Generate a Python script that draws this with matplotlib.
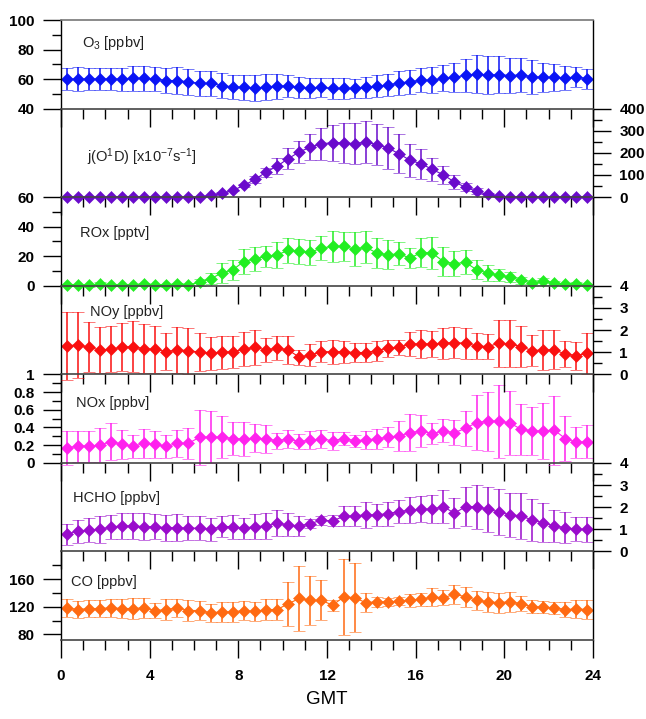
import numpy as np
import matplotlib
matplotlib.use("Agg")
import matplotlib.pyplot as plt
from matplotlib.ticker import MultipleLocator, FuncFormatter

plt.rcParams["font.family"] = ["Liberation Sans", "DejaVu Sans"]
plt.rcParams["mathtext.fontset"] = "custom"
plt.rcParams["mathtext.rm"] = "Liberation Sans"
plt.rcParams["mathtext.it"] = "Liberation Sans:italic"
plt.rcParams["mathtext.bf"] = "Liberation Sans:bold"

# half-hour bins, centred at :15 and :45
hours = np.arange(0.25, 24, 0.5)

o3 = [60, 60, 60, 60, 60, 60, 60.4, 60.4, 60, 59, 59, 58.1, 57, 57, 55.6, 54.7,
      54.3, 53.8, 54.7, 55.2, 55.2, 54.3, 53.8, 54.3, 53.6, 53.6, 53.6, 54.3,
      55.2, 55.8, 57.4, 58.1, 59.2, 59.2, 60.4, 61.1, 62.6, 63.3, 62.6, 63.0,
      62.4, 62.8, 61.5, 61.1, 61.1, 60.6, 61.5, 60.2]
o3_err = [7.4, 8.0, 7.2, 7.4, 7.6, 7.8, 8.3, 8.3, 8.0, 8.7, 9.4, 8.6, 8.5, 8.2,
          8.5, 8.2, 8.6, 8.8, 8.6, 8.5, 7.4, 7.4, 6.8, 6.5, 7.0, 7.1, 6.5, 7.0,
          7.4, 7.6, 7.9, 8.3, 8.3, 8.7, 8.8, 10.0, 11.3, 13.0, 13.0, 12.3, 11.9,
          11.6, 11.5, 10.1, 9.2, 8.2, 7.0, 6.8]

jo1d = [0, 0, 0, 0, 0, 0, 0, 0, 0, 0, 0, 0, 1, 8, 18, 30, 53, 80, 113, 140, 174,
        204, 226, 241, 246, 246, 241, 249, 237, 222, 196, 166, 151, 125, 101, 68,
        45, 26, 12, 3, 0, 0, 0, 0, 0, 0, 0, 0]
jo1d_err = [0, 0, 0, 0, 0, 0, 0, 0, 0, 0, 0, 0, 0, 2, 3, 4, 5, 17, 20, 36, 49, 48,
            59, 73, 81, 90, 92, 97, 93, 94, 87, 74, 68, 52, 40, 30, 19, 14, 5, 2,
            0, 0, 0, 0, 0, 0, 0, 0]

rox = [0.7, 0.7, 0.2, 1.4, 0.7, 0.3, 0.5, 1.2, 0.5, 0.2, 1.2, 0.7, 2.2, 4.7, 8.6,
       10.8, 16.4, 18.2, 19.8, 20.9, 23.9, 23.2, 22.7, 25.5, 26.6, 26.6, 24.8,
       26.1, 22.1, 20.9, 21.6, 18.7, 22.5, 22.1, 16.4, 14.9, 15.8, 10.8, 8.6, 7.2,
       5.9, 3.6, 1.8, 2.9, 2.0, 1.1, 1.4, 0.7]
rox_err = [0.8, 0.8, 0.8, 0.8, 0.8, 0.8, 0.8, 0.8, 0.8, 0.8, 0.8, 0.8, 2.5, 3.6,
           7.0, 6.8, 8.8, 8.3, 7.0, 8.7, 8.2, 8.7, 8.4, 8.1, 10.4, 10.1, 11.3,
           10.9, 10.4, 9.9, 7.7, 7.0, 10.1, 10.7, 9.9, 8.4, 8.1, 6.3, 5.3, 4.2,
           3.4, 2.6, 2.0, 2.2, 1.5, 1.0, 1.0, 0.8]

noy = [1.28, 1.33, 1.22, 1.10, 1.13, 1.22, 1.25, 1.15, 1.13, 1.02, 1.10, 1.07,
       1.00, 0.95, 1.00, 1.02, 1.13, 1.22, 1.10, 1.18, 1.10, 0.77, 0.87, 1.02,
       1.02, 1.02, 0.98, 0.98, 1.07, 1.18, 1.22, 1.37, 1.37, 1.37, 1.40, 1.43,
       1.40, 1.28, 1.25, 1.40, 1.37, 1.25, 1.07, 1.10, 1.10, 0.92, 0.84, 0.95]
noy_err = [1.53, 1.49, 1.12, 1.04, 1.04, 1.09, 1.15, 1.11, 1.07, 0.83, 1.04,
           1.04, 0.87, 0.74, 0.74, 0.72, 0.76, 0.80, 0.55, 0.53, 0.64, 0.33,
           0.48, 0.48, 0.54, 0.50, 0.42, 0.42, 0.45, 0.38, 0.35, 0.55, 0.62,
           0.57, 0.70, 0.70, 0.70, 0.58, 0.55, 1.06, 1.06, 0.92, 0.70, 0.92,
           0.88, 0.57, 0.63, 0.92]

nox = [0.166, 0.19, 0.19, 0.20, 0.24, 0.21, 0.185, 0.22, 0.21, 0.185, 0.22, 0.22,
       0.29, 0.29, 0.29, 0.275, 0.27, 0.28, 0.27, 0.25, 0.27, 0.24, 0.256, 0.27,
       0.25, 0.275, 0.25, 0.26, 0.27, 0.29, 0.305, 0.34, 0.36, 0.33, 0.36, 0.34,
       0.39, 0.455, 0.47, 0.47, 0.45, 0.38, 0.36, 0.36, 0.37, 0.275, 0.23, 0.24]
nox_err = [0.19, 0.175, 0.175, 0.19, 0.21, 0.165, 0.13, 0.16, 0.15, 0.13, 0.15,
           0.175, 0.31, 0.295, 0.235, 0.19, 0.195, 0.155, 0.155, 0.09, 0.10,
           0.085, 0.10, 0.10, 0.10, 0.07, 0.066, 0.10, 0.11, 0.11, 0.17, 0.21,
           0.185, 0.12, 0.13, 0.14, 0.195, 0.31, 0.335, 0.41, 0.36, 0.29, 0.27,
           0.32, 0.39, 0.25, 0.17, 0.19]

hcho = [0.77, 0.92, 0.95, 1.00, 1.10, 1.15, 1.15, 1.12, 1.12, 1.07, 1.07, 1.05,
        1.05, 1.00, 1.12, 1.12, 1.05, 1.12, 1.15, 1.27, 1.20, 1.15, 1.26, 1.41,
        1.38, 1.58, 1.61, 1.65, 1.65, 1.71, 1.80, 1.86, 1.91, 1.91, 2.02, 1.73,
        2.02, 2.02, 1.91, 1.79, 1.65, 1.61, 1.42, 1.30, 1.15, 1.07, 1.00, 1.00]
hcho_err = [0.48, 0.52, 0.54, 0.60, 0.53, 0.58, 0.60, 0.60, 0.57, 0.58, 0.60,
            0.55, 0.55, 0.53, 0.49, 0.54, 0.48, 0.58, 0.57, 0.58, 0.52, 0.45,
            0.21, 0.21, 0.25, 0.45, 0.44, 0.58, 0.49, 0.54, 0.52, 0.58, 0.59,
            0.64, 0.75, 0.67, 0.87, 1.00, 1.02, 1.04, 1.00, 1.03, 0.93, 0.87,
            0.73, 0.69, 0.55, 0.57]

co = [118.5, 116, 117.5, 117.5, 118.5, 117.5, 117.5, 118.5, 114.6, 116, 118.5,
      114.6, 114.6, 111.2, 112.7, 112.7, 114.6, 113.2, 116, 116, 124.4, 132,
      129.2, 129.2, 122.4, 134, 133.2, 125.9, 127.3, 127, 128.2, 129.7, 130.7,
      134, 133.2, 138, 134.6, 129.2, 127.3, 125.9, 127.3, 124.4, 120, 119.5,
      118.5, 116, 116.9, 116]
co_err = [12.7, 12.2, 12.9, 12.7, 12.7, 13.9, 14.6, 14.6, 11.0, 15.4, 12.9, 14.6,
          13.4, 13.2, 14.4, 14.9, 13.4, 14.2, 14.6, 15.4, 32, 46.8, 35.4, 28.8,
          8, 55.4, 49.8, 13.9, 7.1, 6.1, 5.4, 9.5, 9.3, 12.7, 11.2, 14.2, 14.6,
          13.9, 14.6, 14.2, 14.6, 11, 9.3, 8.5, 8.5, 10.5, 12.7, 13.2]

# label, values, errors, colour, ylim, major, side, label x/y (axes frac)
panels = [
    (r"O$_3$ [ppbv]", o3, o3_err, "#0a14f5", (40, 100), 20, "left", 0.039, 0.74),
    (r"j(O$^1$D) [x10$^{-7}$s$^{-1}$]", jo1d, jo1d_err, "#6a0bcc", (0, 400), 100, "right", 0.049, 0.45),
    ("ROx [pptv]", rox, rox_err, "#22ee22", (0, 60), 20, "left", 0.036, 0.60),
    ("NOy [ppbv]", noy, noy_err, "#fa1010", (0, 4), 1, "right", 0.055, 0.70),
    ("NOx [ppbv]", nox, nox_err, "#ff22ee", (0, 1), 0.2, "left", 0.028, 0.68),
    ("HCHO [ppbv]", hcho, hcho_err, "#9a0ccc", (0, 4), 1, "right", 0.023, 0.60),
    ("CO [ppbv]", co, co_err, "#ff6a12", (72, 200), 40, "left", 0.019, 0.66),
]

fig = plt.figure(figsize=(6.46, 7.19), dpi=100)
left, right = 61 / 646, 593 / 646
top, bottom = 1 - 20 / 719, 1 - 640 / 719
h = (top - bottom) / len(panels)
fmt = FuncFormatter(lambda v, p: "%g" % round(v, 6))

for i, (label, vals, errs, color, ylim, major, side, lx, ly) in enumerate(panels):
    ax = fig.add_axes([left, top - (i + 1) * h, right - left, h])
    ax.errorbar(hours, vals, yerr=errs, fmt="-D", color=color, ms=6.2, mew=0.4,
                lw=0.8, elinewidth=1.1, capsize=4, capthick=1.1, clip_on=False)
    ax.set_xlim(0, 24)
    ax.set_ylim(*ylim)
    ax.xaxis.set_major_locator(MultipleLocator(4))
    ax.xaxis.set_minor_locator(MultipleLocator(1))
    ax.yaxis.set_major_locator(MultipleLocator(major))
    ax.yaxis.set_minor_locator(MultipleLocator(major / 2))
    ax.yaxis.set_major_formatter(fmt)
    if ylim[0] == 72:
        ax.set_yticks([80, 120, 160])
        ax.set_yticks([100, 140, 180], minor=True)

    ax.tick_params(axis="x", which="major", direction="out", length=13, width=1,
                   top=False, bottom=True, labelbottom=(i == len(panels) - 1),
                   labelsize=11, pad=8)
    ax.tick_params(axis="x", which="minor", direction="out", length=7, width=1)
    ax.tick_params(axis="y", which="major", direction="out", length=13, width=1,
                   labelsize=11, pad=6)
    ax.tick_params(axis="y", which="minor", direction="out", length=6.5, width=1)
    if side == "right":
        ax.yaxis.tick_right()
        ax.tick_params(axis="y", which="both", left=False, labelleft=False)
    else:
        ax.tick_params(axis="y", which="both", right=False, labelright=False)
    for lab in ax.get_xticklabels() + ax.get_yticklabels():
        lab.set_fontweight("bold")

    for s in ["left", "right"]:
        ax.spines[s].set_color("black")
        ax.spines[s].set_linewidth(1.0)
    ax.spines["bottom"].set_color("#444444")
    ax.spines["bottom"].set_linewidth(1.2)
    ax.spines["top"].set_visible(i == 0)
    ax.spines["top"].set_color("#777777")
    ax.spines["top"].set_linewidth(1.2)
    ax.patch.set_alpha(0)
    ax.set_zorder(len(panels) - i)

    ax.text(lx, ly, label, transform=ax.transAxes,
            fontsize=10.5, va="center", ha="left", color="#222222")

fig.text((left + right) / 2, 1 - 700 / 719, "GMT", ha="center", va="center",
         fontsize=13.5)

fig.savefig("out.png", dpi=100)
